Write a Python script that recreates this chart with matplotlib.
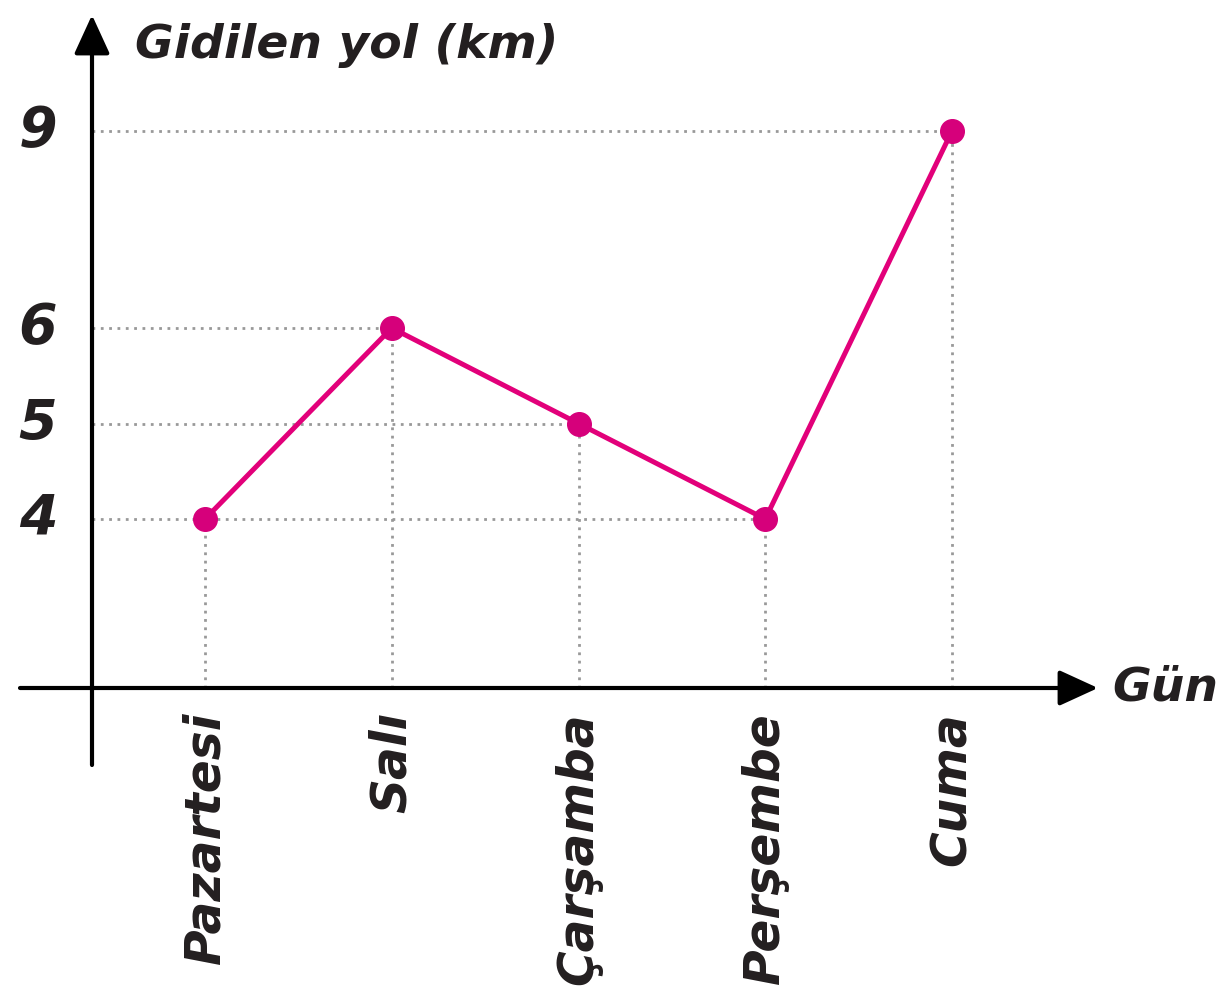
import numpy as np
from matplotlib import pyplot as plt

days = ["Pazartesi", "Salı", "Çarşamba", "Perşembe", "Cuma"]
distance = [4, 6, 5, 4, 9]
y_ticks = [4, 5, 6, 9]

# the printed y axis is not to scale: piecewise mapping value -> figure height
knot_vals = np.array([-8, 0, 4, 5, 6, 9, 12])
knot_pos = 999 - np.array([1026, 688, 519, 423.5, 328, 131, -66])


def fwd(v):
    return np.interp(v, knot_vals, knot_pos)


def inv(t):
    return np.interp(t, knot_pos, knot_vals)


ink = "#231f20"
pink = "#e2007a"
grid = "#999999"
font = dict(family="DejaVu Sans", style="italic", weight="bold", color=ink)

fig = plt.figure(figsize=(12.26, 9.99), dpi=100)
ax = fig.add_axes([0, 0, 1, 1])
ax.set_yscale("function", functions=(fwd, inv))
step = 186.75
ax.set_xlim(-205 / step, (1226 - 205) / step)
ax.set_ylim(inv(0), inv(999))
ax.axis("off")

x = np.arange(len(days))
y_axis_x = (92 - 205) / step

# dotted guide lines
for xi, yi in zip(x, distance):
    ax.plot([xi, xi], [0, yi], ls=(0, (1, 2)), color=grid, lw=2, zorder=1)
for t in y_ticks:
    far = max(xi for xi, yi in zip(x, distance) if yi == t)
    ax.plot([y_axis_x, far], [t, t], ls=(0, (1, 2)), color=grid, lw=2, zorder=1)

# axes with arrows
arrow = dict(arrowstyle="-|>,head_length=2.4,head_width=1.1",
             color="black", lw=3, shrinkA=0, shrinkB=0)
ax.annotate("", xy=((1098 - 205) / step, 0), xytext=((20 - 205) / step, 0),
            arrowprops=arrow)
ax.annotate("", xy=(y_axis_x, inv(999 - 15)), xytext=(y_axis_x, inv(999 - 765)),
            arrowprops=arrow)

# data line
ax.plot(x, distance, color=pink, lw=3.6, zorder=3)
ax.plot(x, distance, "o", color="#d6007b", ms=17, zorder=4)

# labels
for t in y_ticks:
    ax.text((38 - 205) / step, t, str(t), fontsize=40, ha="center", va="center", **font)
for xi, d in zip(x, days):
    ax.text(xi, inv(999 - 712), d, rotation=90, fontsize=35, ha="center", va="top", **font)
ax.text((135 - 205) / step, inv(999 - 45), "Gidilen yol (km)", fontsize=34,
        ha="left", va="center", **font)
ax.text((1112 - 205) / step, 0, "Gün", fontsize=34, ha="left", va="center", **font)

plt.savefig("out.png", dpi=100)
